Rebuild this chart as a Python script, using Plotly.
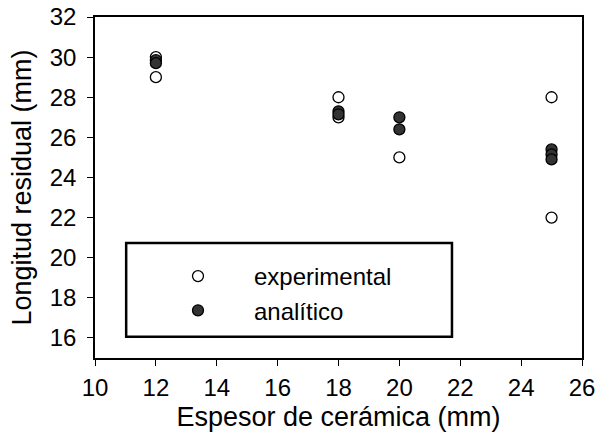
import plotly.graph_objects as go

# Experimental data
exp_x = [12, 12, 18, 18, 20, 25, 25]
exp_y = [30.0, 29.0, 28.0, 27.0, 25.0, 28.0, 22.0]

# Analytical data
ana_x = [12, 12, 18, 18, 20, 20, 25, 25, 25]
ana_y = [29.85, 29.7, 27.3, 27.15, 27.0, 26.4, 25.4, 25.15, 24.9]

x_ticks = [10, 12, 14, 16, 18, 20, 22, 24, 26]
y_ticks = [16, 18, 20, 22, 24, 26, 28, 30, 32]

FONT = "Liberation Sans, Arial, Helvetica, sans-serif"

fig = go.Figure()
fig.add_trace(go.Scatter(
    x=exp_x, y=exp_y, mode="markers", name="experimental",
    marker=dict(symbol="circle", size=11, color="white",
                line=dict(color="black", width=1.3)),
))
fig.add_trace(go.Scatter(
    x=ana_x, y=ana_y, mode="markers", name="analítico",
    marker=dict(symbol="circle", size=11, color="#333333",
                line=dict(color="black", width=1.3)),
))

axis_common = dict(
    showgrid=False, zeroline=False, showline=True, linecolor="black",
    linewidth=1.6, mirror=True, ticks="outside", ticklen=6,
    tickwidth=1.2, tickcolor="black", automargin=False,
    ticklabeloverflow="allow",
    tickfont=dict(family=FONT, size=24, color="black"),
)

fig.update_xaxes(range=[10, 26], tickvals=x_ticks, ticklabelstandoff=1,
                 title=dict(text="Espesor de cerámica (mm)",
                            font=dict(family=FONT, size=27, color="black"),
                            standoff=8),
                 **axis_common)
fig.update_yaxes(range=[15, 32], tickvals=y_ticks, ticklabelstandoff=6,
                 title=dict(text="Longitud residual (mm)",
                            font=dict(family=FONT, size=27, color="black"),
                            standoff=10),
                 **axis_common)

# legend frame
fig.add_shape(type="rect", xref="paper", yref="paper",
              x0=0.064, x1=0.733, y0=0.062, y1=0.337,
              line=dict(color="black", width=2.5), fillcolor="white",
              layer="below")

fig.update_layout(
    width=602, height=440,
    margin=dict(l=95, r=20, t=17, b=82),
    paper_bgcolor="white", plot_bgcolor="white",
    showlegend=True,
    legend=dict(x=0.0965, y=0.305, xanchor="left", yanchor="top",
                bgcolor="rgba(0,0,0,0)", borderwidth=0,
                font=dict(family=FONT, size=24, color="black"),
                itemwidth=102, tracegroupgap=0),
)

# remove the default page margin so the figure sits at the window origin
fig.write_html("out.html", config={"displayModeBar": False},
               post_script="document.body.style.margin='0';")
